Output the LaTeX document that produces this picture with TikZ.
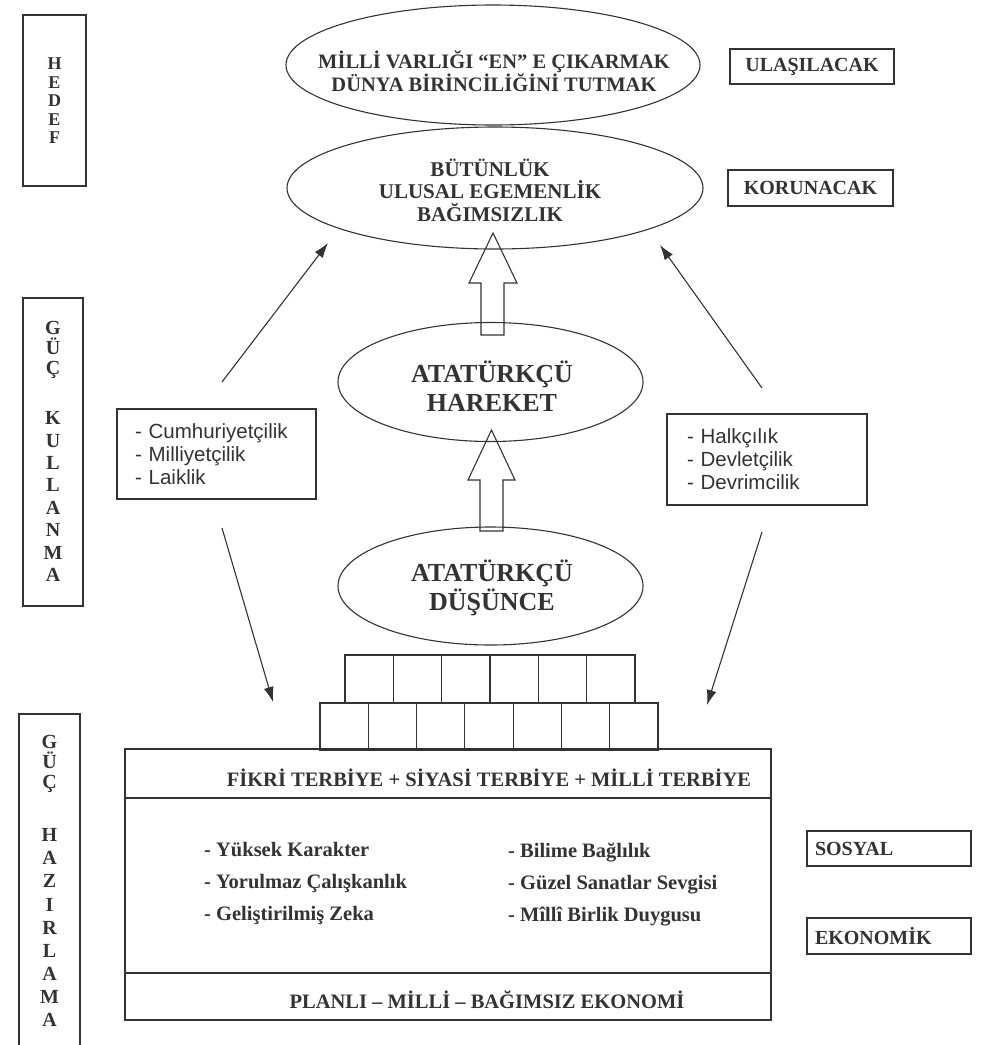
\documentclass[tikz,border=0pt]{standalone}
\usepackage{fontspec}
\setmainfont{Liberation Serif}
\newfontfamily\arialfont{Liberation Sans}
\usetikzlibrary{shapes.geometric,arrows.meta}
\definecolor{ink}{gray}{0.2}
\begin{document}
\begin{tikzpicture}[x=1pt,y=-1pt,
  every node/.style={text=ink},
  ln/.style={draw=ink,line width=1.1pt},
  ell/.style={ln,ellipse,inner sep=0pt},
  box/.style={ln,rectangle,inner sep=0pt},
  title/.style={inner sep=0pt,align=center,font=\bfseries\fontsize{20.5}{22}\selectfont},
  big/.style={inner sep=0pt,align=center,font=\bfseries\fontsize{26}{29}\selectfont},
  letters/.style={inner sep=0pt,align=center,font=\bfseries\fontsize{20}{20}\selectfont},
  sansbox/.style={box,align=left,font=\arialfont\fontsize{20.5}{23}\selectfont},
  item/.style={inner sep=0pt,align=left,font=\bfseries\fontsize{20.5}{32}\selectfont},
  lab/.style={box,font=\bfseries\fontsize{20}{22}\selectfont},
  arr/.style={draw=ink,line width=1.1pt,-{Latex[length=15pt,width=10pt]}}
]
\fill[white] (0,0) rectangle (984,1045);
\useasboundingbox (0,0) rectangle (984,1045);

% left label columns
\node[box,minimum width=63pt,minimum height=171pt] (hedefbox) at (54.5,100.5) {};
\node[letters,font=\bfseries\fontsize{18}{18.5}\selectfont] (hedef) at (54.5,101) {H\\E\\D\\E\\F};
\node[box,minimum width=60pt,minimum height=308pt] (kulbox) at (53,452) {};
\node[letters] (kul) at (53,451.5) {G\\Ü\\Ç\\[30pt]K\\[2.4pt]U\\[2.4pt]L\\[2.4pt]L\\[2.4pt]A\\[2.4pt]N\\[2.4pt]M\\[2.4pt]A};
\node[box,minimum width=61pt,minimum height=346pt] (hazbox) at (49.5,887) {};
\node[letters] (haz) at (49.5,881) {G\\Ü\\Ç\\[33pt]H\\[3.1pt]A\\[3.1pt]Z\\[3.1pt]I\\[3.1pt]R\\[3.1pt]L\\[3.1pt]A\\[3.1pt]M\\[3.1pt]A};

% ellipses
\node[ell,minimum width=414pt,minimum height=120pt] (e1) at (493,65) {};
\node[title] (t1) at (494,71) {MİLLİ VARLIĞI “EN” E ÇIKARMAK\\DÜNYA BİRİNCİLİĞİNİ TUTMAK};
\node[ell,minimum width=416pt,minimum height=122pt] (e2) at (495,188) {};
\node[title,font=\bfseries\fontsize{21}{22.5}\selectfont] (t2) at (490,190) {BÜTÜNLÜK\\ULUSAL EGEMENLİK\\BAĞIMSIZLIK};
\node[ell,minimum width=305pt,minimum height=119pt] (e3) at (490.5,382) {};
\node[big] (t3) at (492,386) {ATATÜRKÇÜ\\HAREKET};
\node[ell,minimum width=305pt,minimum height=118pt] (e4) at (490.5,586) {};
\node[big] (t4) at (492,588) {ATATÜRKÇÜ\\DÜŞÜNCE};

% block arrows
\draw[ln,line join=miter] (493,233) -- (517,283) -- (504,283) -- (504,335) -- (481,335) -- (481,283) -- (469,283) -- cycle;
\draw[ln,line join=miter] (491.5,430) -- (515,480) -- (503,480) -- (503,531) -- (480,531) -- (480,480) -- (468,480) -- cycle;

% right labels
\node[lab,minimum width=164pt,minimum height=35pt] (ulas) at (812,66.5) {ULAŞILACAK};
\node[lab,minimum width=165pt,minimum height=36pt] (koru) at (810.5,188) {KORUNACAK};
\node[lab,minimum width=164pt,minimum height=35pt,text width=148pt,align=left] (sos) at (889,848.5) {SOSYAL};
\node[lab,minimum width=164pt,minimum height=36pt,text width=148pt,align=left] (eko) at (889,936) {EKONOMİK};

% principle boxes
\node[sansbox,minimum width=199pt,minimum height=90pt,text width=163pt] (lbox) at (216.5,454) {- Cumhuriyetçilik\\- Milliyetçilik\\- Laiklik};
\node[sansbox,minimum width=200pt,minimum height=91pt,text width=160pt] (rbox) at (767,459.5) {- Halkçılık\\- Devletçilik\\- Devrimcilik};

% thin arrows
\coordinate (a1s) at (222,382); \coordinate (a1e) at (328,243);
\coordinate (a2s) at (762,388); \coordinate (a2e) at (660,245);
\coordinate (a3s) at (222,528); \coordinate (a3e) at (273,702);
\coordinate (a4s) at (762,532); \coordinate (a4e) at (707,705);
\draw[arr] (a1s) -- (a1e);
\draw[arr] (a2s) -- (a2e);
\draw[arr] (a3s) -- (a3e);
\draw[arr] (a4s) -- (a4e);

% bricks
\foreach \i in {0,...,5} \draw[ln] ({345+48.33*\i},655) rectangle ({345+48.33*(\i+1)},703);
\foreach \i in {0,...,6} \draw[ln] ({320+48.29*\i},703) rectangle ({320+48.29*(\i+1)},750);

% base box
\node[box,minimum width=646pt,minimum height=271pt] (base) at (448,884.5) {};
\coordinate (d1a) at (125,798); \coordinate (d1b) at (771,798);
\coordinate (d2a) at (125,973); \coordinate (d2b) at (771,973);
\draw[ln] (d1a) -- (d1b);
\draw[ln] (d2a) -- (d2b);
\node[title] (head) at (489,778) {FİKRİ TERBİYE + SİYASİ TERBİYE + MİLLİ TERBİYE};
\node[item,anchor=west] (li) at (204,883) {- Yüksek Karakter\\- Yorulmaz Çalışkanlık\\- Geliştirilmiş Zeka};
\node[item,anchor=west] (ri) at (508,885) {- Bilime Bağlılık\\- Güzel Sanatlar Sevgisi\\- Mîllî Birlik Duygusu};
\node[title] (foot) at (487,1000) {PLANLI – MİLLİ – BAĞIMSIZ EKONOMİ};
\end{tikzpicture}
\end{document}
